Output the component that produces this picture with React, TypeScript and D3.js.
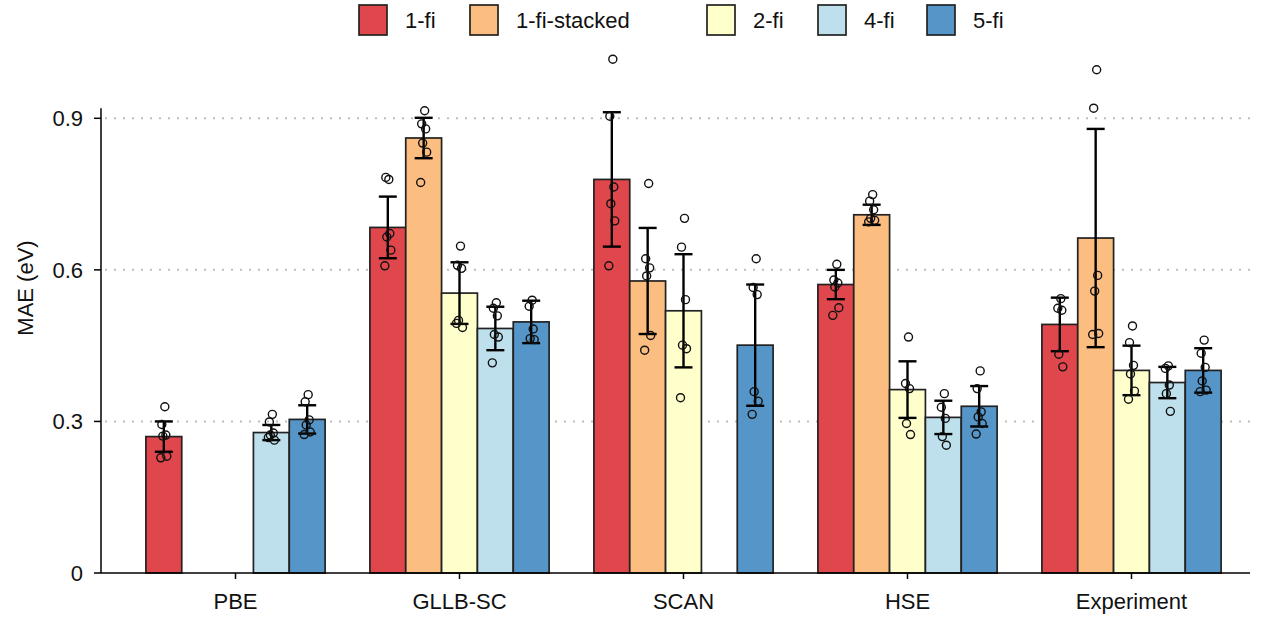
import React from "react";
import * as d3 from "d3";

// categories and series
const groups = ["PBE", "GLLB-SC", "SCAN", "HSE", "Experiment"];
const series = ["1-fi", "1-fi-stacked", "2-fi", "4-fi", "5-fi"];
const colors = ["#e0474c", "#fbbd80", "#ffffcc", "#bde0ec", "#5595c8"];

// mean MAE (eV) per group, null = not reported
const mae1fi = [0.27, 0.684, 0.779, 0.571, 0.492];
const mae1fiStacked = [null, 0.861, 0.578, 0.709, 0.663];
const mae2fi = [null, 0.554, 0.519, 0.363, 0.401];
const mae4fi = [0.278, 0.484, null, 0.308, 0.377];
const mae5fi = [0.304, 0.497, 0.451, 0.33, 0.401];

// standard deviation (error bar half height)
const sd1fi = [0.03, 0.061, 0.133, 0.029, 0.053];
const sd1fiStacked = [null, 0.04, 0.105, 0.02, 0.216];
const sd2fi = [null, 0.061, 0.112, 0.056, 0.049];
const sd4fi = [0.015, 0.043, null, 0.033, 0.031];
const sd5fi = [0.028, 0.042, 0.12, 0.04, 0.044];

// individual runs
const runs1fi = [
  [0.329, 0.294, 0.273, 0.271, 0.231, 0.228],
  [0.779, 0.783, 0.672, 0.665, 0.639, 0.608],
  [1.017, 0.904, 0.764, 0.731, 0.697, 0.608],
  [0.611, 0.58, 0.574, 0.566, 0.525, 0.51],
  [0.543, 0.524, 0.52, 0.433, 0.408],
];
const runs1fiStacked = [
  [],
  [0.915, 0.889, 0.879, 0.851, 0.833, 0.773],
  [0.771, 0.622, 0.604, 0.588, 0.47, 0.441],
  [0.749, 0.736, 0.719, 0.702, 0.698, 0.695],
  [0.996, 0.92, 0.589, 0.558, 0.474, 0.472],
];
const runs2fi = [
  [],
  [0.647, 0.609, 0.603, 0.5, 0.486, 0.494],
  [0.702, 0.645, 0.541, 0.451, 0.444, 0.347],
  [0.467, 0.375, 0.365, 0.296, 0.274],
  [0.489, 0.456, 0.411, 0.394, 0.36, 0.344],
];
const runs4fi = [
  [0.314, 0.299, 0.277, 0.273, 0.263, 0.268],
  [0.535, 0.524, 0.509, 0.472, 0.467, 0.416],
  [],
  [0.355, 0.328, 0.306, 0.27, 0.253],
  [0.41, 0.405, 0.372, 0.355, 0.32],
];
const runs5fi = [
  [0.353, 0.339, 0.303, 0.293, 0.279, 0.274],
  [0.54, 0.528, 0.483, 0.464, 0.462],
  [0.622, 0.565, 0.551, 0.359, 0.34, 0.314],
  [0.4, 0.365, 0.319, 0.309, 0.296, 0.275],
  [0.461, 0.435, 0.407, 0.38, 0.362, 0.359],
];

const yTicks = [0, 0.3, 0.6, 0.9];

const means = [mae1fi, mae1fiStacked, mae2fi, mae4fi, mae5fi];
const sds = [sd1fi, sd1fiStacked, sd2fi, sd4fi, sd5fi];
const runs = [runs1fi, runs1fiStacked, runs2fi, runs4fi, runs5fi];

const jitter = [1, -2, 2, -1, 3, -3];
const font = "'Liberation Sans', Arial, Helvetica, sans-serif";

export default function App() {
  const width = 1270;
  const height = 618;
  const axisX = 101;
  const axisRight = 1250;

  const y = d3.scaleLinear().domain([0, 0.9]).range([573, 118.3]);
  const x0 = d3
    .scaleBand()
    .domain(groups)
    .range([123.5, 1243.5])
    .paddingInner(0.2)
    .paddingOuter(0.1);
  const x1 = d3.scaleBand().domain(series).range([0, x0.bandwidth()]);

  const legendX = [359, 470, 707, 818, 927];

  return (
    <div style={{ position: "fixed", left: 0, top: 0 }}>
      <svg width={width} height={height} style={{ display: "block", background: "#fff" }} fontFamily={font}>
        {/* grid */}
        {yTicks.filter((t) => t > 0).map((t) => (
          <line
            key={t}
            x1={axisX + 4}
            x2={axisRight}
            y1={y(t)}
            y2={y(t)}
            stroke="#bdbdbd"
            strokeWidth={2}
            strokeDasharray="2 7"
          />
        ))}

        {/* bars */}
        {groups.map((g, gi) => (
          <g key={g} transform={`translate(${x0(g)},0)`}>
            {series.map((s, si) => {
              const v = means[si][gi];
              if (v == null) return null;
              const bx = x1(s)!;
              return (
                <rect
                  key={s}
                  x={bx}
                  y={y(v)}
                  width={x1.bandwidth()}
                  height={y(0) - y(v)}
                  fill={colors[si]}
                  stroke="#222"
                  strokeWidth={1.7}
                />
              );
            })}
          </g>
        ))}

        {/* error bars and runs */}
        {groups.map((g, gi) => (
          <g key={g} transform={`translate(${x0(g)},0)`}>
            {series.map((s, si) => {
              const v = means[si][gi];
              const e = sds[si][gi];
              if (v == null || e == null) return null;
              const cx = x1(s)! + x1.bandwidth() / 2;
              return (
                <g key={s}>
                  <line x1={cx} x2={cx} y1={y(v + e)} y2={y(v - e)} stroke="#000" strokeWidth={2.4} />
                  <line x1={cx - 9} x2={cx + 9} y1={y(v + e)} y2={y(v + e)} stroke="#000" strokeWidth={2.4} />
                  <line x1={cx - 9} x2={cx + 9} y1={y(v - e)} y2={y(v - e)} stroke="#000" strokeWidth={2.4} />
                  {runs[si][gi].map((r, ri) => (
                    <circle
                      key={ri}
                      cx={cx + jitter[ri % jitter.length]}
                      cy={y(r)}
                      r={4}
                      fill="none"
                      stroke="#111"
                      strokeWidth={1.4}
                    />
                  ))}
                </g>
              );
            })}
          </g>
        ))}

        {/* y axis */}
        <line x1={axisX} x2={axisX} y1={y(0)} y2={y(0.92)} stroke="#000" strokeWidth={1.5} />
        {yTicks.map((t) => (
          <g key={t}>
            <line x1={axisX - 7} x2={axisX} y1={y(t)} y2={y(t)} stroke="#000" strokeWidth={1.5} />
            <text x={axisX - 18} y={y(t)} dy="0.36em" textAnchor="end" fontSize={22} fill="#111">
              {t === 0 ? "0" : t.toFixed(1)}
            </text>
          </g>
        ))}
        <text
          transform={`translate(33,288) rotate(-90)`}
          textAnchor="middle"
          fontSize={22}
          fill="#111"
        >
          MAE (eV)
        </text>

        {/* x axis */}
        <line x1={axisX} x2={axisRight} y1={y(0)} y2={y(0)} stroke="#000" strokeWidth={1.5} />
        {groups.map((g) => {
          const cx = x0(g)! + x0.bandwidth() / 2;
          return (
            <g key={g}>
              <line x1={cx} x2={cx} y1={y(0)} y2={y(0) + 6} stroke="#000" strokeWidth={1.5} />
              <text x={cx} y={609} textAnchor="middle" fontSize={22} fill="#111">
                {g}
              </text>
            </g>
          );
        })}

        {/* legend */}
        {series.map((s, si) => (
          <g key={s}>
            <rect x={legendX[si]} y={5} width={28} height={30} fill={colors[si]} stroke="#222" strokeWidth={1.7} />
            <text x={legendX[si] + 46} y={28} fontSize={22} fill="#111">
              {s}
            </text>
          </g>
        ))}
      </svg>
    </div>
  );
}
